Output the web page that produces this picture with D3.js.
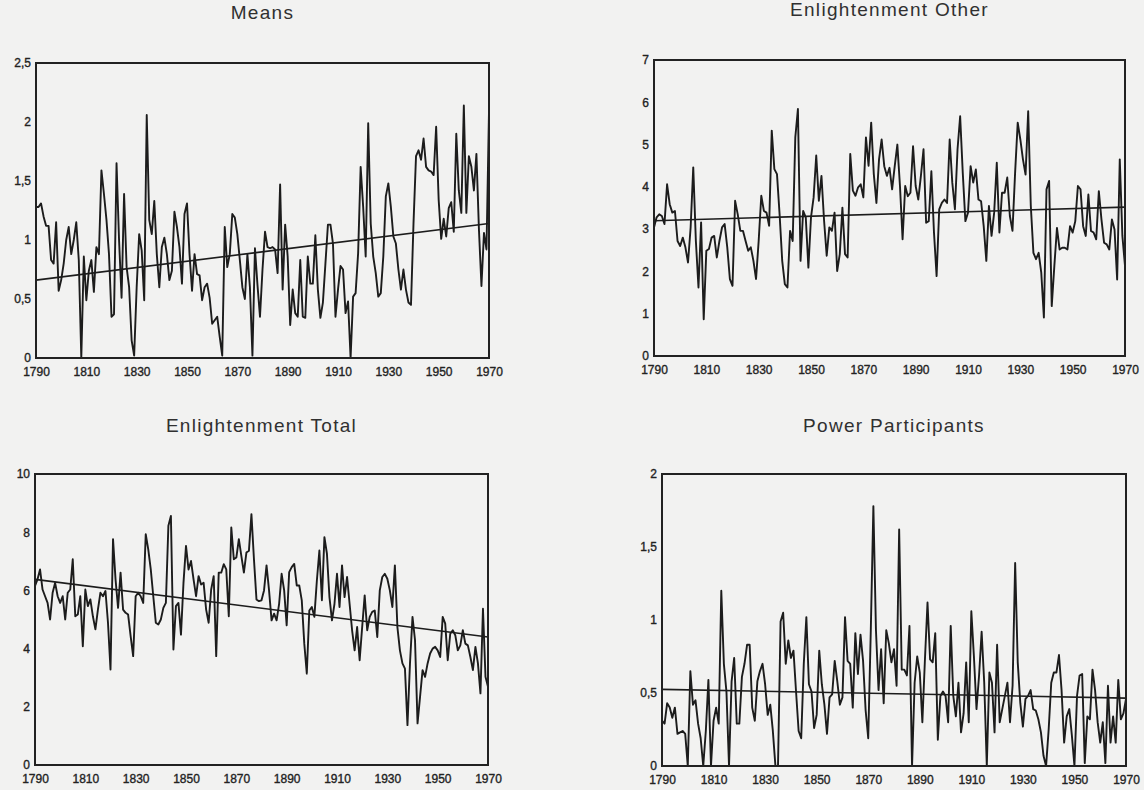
<!DOCTYPE html>
<html>
<head>
<meta charset="utf-8">
<script src="https://cdn.jsdelivr.net/npm/d3@7"></script>
<style>
  body { margin: 0; background: #f2f2f1; }
  svg { display: block; }
  .title { font-family: "Liberation Sans", Arial, sans-serif; font-size: 19px; letter-spacing: 1.3px; fill: #303030; }
  .tick text { font-family: "Liberation Sans", Arial, sans-serif; font-size: 12px; fill: #222; stroke: #222; stroke-width: 0.35px; }
</style>
</head>
<body>
<svg id="chart" width="1144" height="790"></svg>
<script>
// yearly values 1790 - 1970
var years = d3.range(1790, 1971);
var xTicks = [1790, 1810, 1830, 1850, 1870, 1890, 1910, 1930, 1950, 1970];

var means = [
  1.28, 1.28, 1.31, 1.2, 1.12, 1.12, 0.83, 0.8, 1.15, 0.57,
  0.66, 0.8, 1.0, 1.11, 0.88, 1.0, 1.15, 0.83, 0, 0.86,
  0.49, 0.74, 0.83, 0.56, 0.94, 0.88, 1.59, 1.39, 1.17, 0.88,
  0.35, 0.37, 1.65, 1.0, 0.51, 1.39, 0.77, 0.6, 0.15, 0.02,
  0.6, 1.05, 0.91, 0.49, 2.06, 1.17, 1.05, 1.33, 0.88, 0.6,
  0.94, 1.02, 0.88, 0.66, 0.74, 1.24, 1.11, 0.94, 0.63, 1.22,
  1.31, 0.88, 0.57, 0.88, 0.71, 0.7, 0.49, 0.6, 0.63, 0.51,
  0.29, 0.32, 0.35, 0.18, 0.02, 1.11, 0.77, 0.88, 1.22, 1.19,
  1.05, 0.83, 0.6, 0.5, 0.88, 0.6, 0.02, 0.93, 0.62, 0.35,
  0.75, 1.07, 0.94, 0.93, 0.94, 0.92, 0.72, 1.47, 0.58, 1.13,
  0.86, 0.28, 0.58, 0.38, 0.35, 0.83, 0.35, 0.34, 0.86, 0.63,
  0.63, 1.04, 0.58, 0.34, 0.47, 0.8, 1.13, 1.13, 0.97, 0.35,
  0.58, 0.78, 0.75, 0.38, 0.48, 0, 0.52, 0.55, 0.89, 1.62,
  1.28, 0.86, 1.99, 1.14, 0.86, 0.72, 0.52, 0.55, 0.86, 1.37,
  1.48, 1.28, 1.03, 0.97, 0.75, 0.58, 0.75, 0.58, 0.47, 0.45,
  1.14, 1.71, 1.76, 1.68, 1.86, 1.62, 1.59, 1.58, 1.55, 1.96,
  1.34, 1.01, 1.18, 1.03, 1.27, 1.32, 1.07, 1.9, 1.42, 1.23,
  2.14, 1.23, 1.71, 1.62, 1.42, 1.73, 1.09, 0.61, 1.06, 0.92, 2.09
];

var enlOther = [
  3.04, 3.28, 3.35, 3.31, 3.12, 4.06, 3.59, 3.39, 3.43, 2.72,
  2.6, 2.8, 2.57, 2.21, 3.04, 4.46, 2.72, 1.62, 3.16, 0.87,
  2.49, 2.53, 2.8, 2.84, 2.33, 2.72, 3.04, 3.12, 2.57, 1.82,
  1.66, 3.67, 3.35, 2.96, 2.96, 2.72, 2.49, 2.57, 2.25, 1.82,
  2.72, 3.79, 3.43, 3.39, 3.08, 5.33, 4.42, 4.3, 3.35, 2.25,
  1.7, 1.62, 2.96, 2.72, 5.17, 5.84, 2.25, 3.43, 3.28, 2.09,
  3.28, 3.75, 4.74, 3.67, 4.26, 3.2, 2.37, 3.04, 2.96, 3.39,
  2.01, 2.41, 3.51, 2.41, 2.33, 4.78, 3.91, 3.79, 3.99, 4.06,
  3.75, 5.17, 4.5, 5.52, 4.3, 3.62, 4.65, 5.12, 4.49, 4.26,
  4.45, 3.94, 4.49, 5.0, 4.02, 2.76, 4.02, 3.78, 3.86, 4.96,
  4.02, 3.7, 4.26, 4.89, 3.15, 3.19, 4.37, 2.92, 1.89, 3.47,
  3.62, 3.7, 3.62, 5.12, 4.1, 3.47, 4.89, 5.67, 4.33, 3.19,
  3.39, 4.49, 4.1, 4.41, 3.7, 3.66, 3.07, 2.25, 3.55, 2.84,
  3.39, 4.57, 2.92, 3.86, 3.86, 4.22, 3.31, 2.96, 4.33, 5.52,
  5.12, 4.65, 4.29, 5.79, 3.55, 2.44, 2.29, 2.44, 1.97, 0.91,
  3.94, 4.14, 1.18, 2.13, 3.03, 2.52, 2.56, 2.56, 2.52, 3.07,
  2.92, 3.19, 4.02, 3.94, 3.07, 2.84, 3.82, 2.96, 2.92, 2.76,
  3.9, 3.23, 2.68, 2.64, 2.52, 3.23, 2.99, 1.81, 4.65, 2.84, 2.13
];

var enlTotal = [
  6.15, 6.38, 6.72, 6.03, 5.8, 5.57, 5.0, 5.92, 6.26, 5.8,
  5.57, 5.8, 5.0, 5.92, 6.03, 7.07, 5.11, 5.17, 5.8, 4.08,
  6.03, 5.46, 5.69, 5.11, 4.66, 5.34, 5.92, 5.8, 5.98, 4.89,
  3.28, 7.76, 6.38, 5.4, 6.61, 5.34, 5.23, 5.17, 4.43, 3.74,
  5.8, 5.92, 5.8, 5.57, 7.93, 7.41, 6.72, 5.8, 4.89, 4.83,
  5.0, 5.4, 5.57, 8.22, 8.56, 3.97, 5.46, 5.57, 4.48, 6.26,
  7.53, 6.72, 7.01, 6.38, 5.8, 6.49, 6.2, 6.26, 5.34, 4.89,
  6.03, 6.49, 3.74, 6.61, 6.61, 6.9, 6.72, 5.11, 8.16, 7.07,
  7.13, 7.76, 7.18, 6.61, 7.3, 7.36, 8.62, 7.07, 5.69, 5.63,
  5.66, 6.0, 6.86, 6.0, 4.97, 5.2, 4.97, 5.54, 6.57, 6.0,
  4.8, 6.63, 6.8, 6.91, 6.17, 6.17, 5.66, 4.17, 3.14, 5.31,
  5.43, 5.09, 6.34, 7.37, 5.66, 7.83, 7.26, 5.77, 4.97, 5.54,
  6.57, 5.43, 6.86, 5.77, 6.46, 5.54, 4.63, 3.94, 4.74, 3.6,
  4.74, 5.83, 4.63, 5.09, 5.26, 5.31, 4.4, 6.0, 6.46, 6.57,
  6.4, 6.0, 5.43, 6.86, 4.74, 3.94, 3.49, 3.31, 1.37, 3.49,
  5.09, 4.29, 1.43, 2.34, 3.26, 3.03, 3.49, 3.83, 4.0, 4.06,
  3.94, 3.71, 5.09, 4.86, 3.6, 4.51, 4.63, 4.46, 3.94, 4.11,
  4.63, 4.17, 4.11, 3.71, 3.26, 4.06, 3.49, 2.46, 5.37, 3.03, 2.69
];

var power = [
  0.31, 0.29, 0.43, 0.4, 0.33, 0.4, 0.22, 0.23, 0.24, 0.22,
  0, 0.65, 0.42, 0.45, 0.29, 0.19, 0, 0.24, 0.59, 0,
  0.31, 0.4, 0.29, 1.2, 0.7, 0.51, 0, 0.58, 0.74, 0.29,
  0.29, 0.61, 0.7, 0.83, 0.83, 0.4, 0.31, 0.58, 0.65, 0.7,
  0.56, 0.35, 0.42, 0.24, 0, 0, 0.99, 1.05, 0.7, 0.86,
  0.74, 0.79, 0.51, 0.24, 0.19, 0.7, 1.02, 0.56, 0.51, 0.26,
  0.35, 0.79, 0.56, 0.42, 0.22, 0.47, 0.49, 0.72, 0.58, 0.42,
  0.47, 1.02, 0.72, 0.7, 0.4, 0.91, 0.63, 0.9, 0.72, 0.38,
  0.19, 0.93, 1.78, 0.93, 0.52, 0.8, 0.43, 0.93, 0.84, 0.71,
  0.8, 0.55, 1.62, 0.66, 0.66, 0.62, 0.96, 0, 0.57, 0.75,
  0.64, 0.3, 0.73, 1.12, 0.73, 0.71, 0.91, 0.18, 0.48, 0.51,
  0.48, 0.3, 0.96, 0.48, 0.34, 0.57, 0.23, 0.36, 0.71, 0.3,
  1.06, 0.75, 0.39, 0.62, 0.92, 0.57, 0, 0.64, 0.57, 0.23,
  0.83, 0.3, 0.39, 0.48, 0.57, 0.3, 0.55, 1.39, 0.71, 0.43,
  0.27, 0.46, 0.48, 0.52, 0.39, 0.38, 0.32, 0.23, 0.07, 0,
  0.25, 0.57, 0.64, 0.64, 0.76, 0.52, 0.16, 0.34, 0.39, 0.21,
  0, 0.48, 0.62, 0.63, 0.02, 0.34, 0.32, 0.66, 0.52, 0.3,
  0.16, 0.3, 0.02, 0.55, 0.16, 0.34, 0.16, 0.59, 0.32, 0.36, 0.46
];

// trend line values at 1790 and 1970
var meansTrend = [0.66, 1.14];
var enlOtherTrend = [3.2, 3.52];
var enlTotalTrend = [6.38, 4.4];
var powerTrend = [0.525, 0.465];

var meansTicks = [0, 0.5, 1, 1.5, 2, 2.5];
var enlOtherTicks = [0, 1, 2, 3, 4, 5, 6, 7];
var enlTotalTicks = [0, 2, 4, 6, 8, 10];
var powerTicks = [0, 0.5, 1, 1.5, 2];

var panels = [
  {title: "Means", values: means, trend: meansTrend, ticks: meansTicks, max: 2.5,
   left: 36, right: 489, top: 63, bottom: 358, ty: 19},
  {title: "Enlightenment Other", values: enlOther, trend: enlOtherTrend, ticks: enlOtherTicks, max: 7,
   left: 654, right: 1125, top: 60, bottom: 356, ty: 16},
  {title: "Enlightenment Total", values: enlTotal, trend: enlTotalTrend, ticks: enlTotalTicks, max: 10,
   left: 35, right: 488, top: 474, bottom: 765, ty: 432},
  {title: "Power Participants", values: power, trend: powerTrend, ticks: powerTicks, max: 2,
   left: 662, right: 1126, top: 474, bottom: 766, ty: 432}
];

var svg = d3.select("#chart");
var fmt = function(d){ return (d + "").replace(".", ","); };

panels.forEach(function(p){
  var x = d3.scaleLinear().domain([1790, 1970]).range([p.left, p.right]);
  var y = d3.scaleLinear().domain([0, p.max]).range([p.bottom, p.top]);
  var g = svg.append("g");

  g.append("text")
    .attr("class", "title")
    .attr("x", (p.left + p.right) / 2)
    .attr("y", p.ty)
    .attr("text-anchor", "middle")
    .text(p.title);

  var xa = g.append("g")
    .attr("transform", "translate(0," + p.bottom + ")")
    .call(d3.axisBottom(x).tickValues(xTicks).tickSize(0).tickPadding(9).tickFormat(d3.format("d")));
  xa.select(".domain").remove();

  var ya = g.append("g")
    .attr("transform", "translate(" + p.left + ",0)")
    .call(d3.axisLeft(y).tickValues(p.ticks).tickSize(0).tickPadding(5).tickFormat(fmt));
  ya.select(".domain").remove();

  var line = d3.line()
    .x(function(d, i){ return x(years[i]); })
    .y(function(d){ return y(d); });

  g.append("path")
    .datum(p.values)
    .attr("fill", "none")
    .attr("stroke", "#1c1c1c")
    .attr("stroke-width", 1.9)
    .attr("stroke-linejoin", "round")
    .attr("d", line);

  g.append("line")
    .attr("x1", x(1790)).attr("y1", y(p.trend[0]))
    .attr("x2", x(1970)).attr("y2", y(p.trend[1]))
    .attr("stroke", "#1c1c1c")
    .attr("stroke-width", 1.6);

  g.append("rect")
    .attr("x", p.left).attr("y", p.top)
    .attr("width", p.right - p.left).attr("height", p.bottom - p.top)
    .attr("fill", "none")
    .attr("stroke", "#222")
    .attr("stroke-width", 2);
});
</script>
</body>
</html>
